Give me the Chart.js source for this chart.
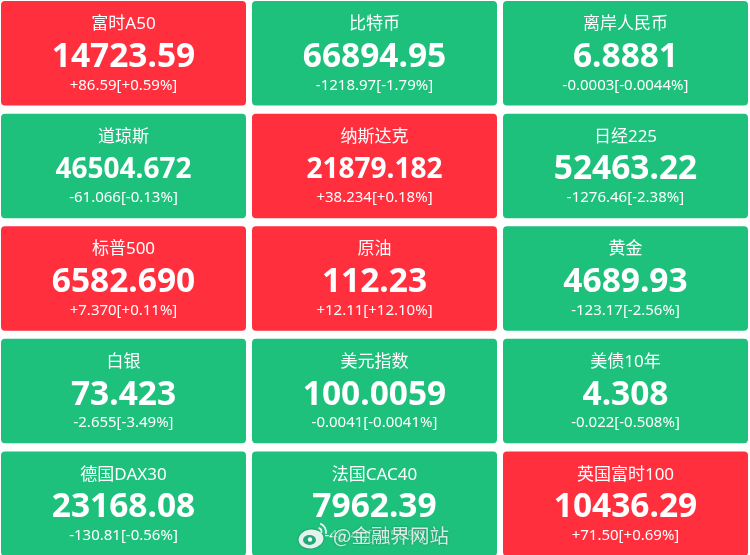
<!DOCTYPE html>
<html lang="zh">
<head>
<meta charset="utf-8">
<title>行情</title>
<script src="https://cdn.jsdelivr.net/npm/chart.js@4"></script>
<style>
html,body{margin:0;padding:0;background:#fff;overflow:hidden;width:750px;height:555px}
canvas{position:absolute;left:-2px;top:-3px}
</style>
</head>
<body>
<canvas id="c" width="753" height="563"></canvas>
<script>
const rows = ["第1行", "第2行", "第3行", "第4行", "第5行"];
const names = [
  ["富时A50", "道琼斯", "标普500", "白银", "德国DAX30"],
  ["比特币", "纳斯达克", "原油", "美元指数", "法国CAC40"],
  ["离岸人民币", "日经225", "黄金", "美债10年", "英国富时100"]
];
const prices = [
  ["14723.59", "46504.672", "6582.690", "73.423", "23168.08"],
  ["66894.95", "21879.182", "112.23", "100.0059", "7962.39"],
  ["6.8881", "52463.22", "4689.93", "4.308", "10436.29"]
];
const changes = [
  ["+86.59", "-61.066", "+7.370", "-2.655", "-130.81"],
  ["-1218.97", "+38.234", "+12.11", "-0.0041", "-46.40"],
  ["-0.0003", "-1276.46", "-123.17", "-0.022", "+71.50"]
];
const percents = [
  ["+0.59%", "-0.13%", "+0.11%", "-3.49%", "-0.56%"],
  ["-1.79%", "+0.18%", "+12.10%", "-0.0041%", "-0.58%"],
  ["-0.0044%", "-2.38%", "-2.56%", "-0.508%", "+0.69%"]
];
const upColor = "#ff2f3e";
const downColor = "#1dc17c";
const watermark = "@金融界网站";
const gap = 3 / 251;
const latin = '"Noto Sans","Noto Sans CJK SC",sans-serif';

const datasets = names.map((col, c) => ({
  label: "列" + (c + 1),
  data: col.map(() => [c + gap, c + 1 - gap]),
  backgroundColor: col.map((_, r) => changes[c][r].startsWith("+") ? upColor : downColor),
  borderRadius: 4,
  borderSkipped: false,
  borderWidth: 0,
  grouped: false,
  barPercentage: 0.928,
  categoryPercentage: 1
}));

const tileText = {
  id: "tileText",
  afterDatasetsDraw(chart) {
    const ctx = chart.ctx;
    ctx.save();
    ctx.textAlign = "center";
    ctx.textBaseline = "middle";
    ctx.fillStyle = "#fff";
    chart.data.datasets.forEach((ds, c) => {
      chart.getDatasetMeta(c).data.forEach((bar, r) => {
        const p = bar.getCenterPoint();
        ctx.font = "17px " + latin;
        ctx.fillText(names[c][r], p.x, p.y - 29);
        ctx.font = "bold " + (prices[c][r].length > 8 ? 28 : 33.5) + "px " + latin;
        ctx.fillText(prices[c][r], p.x, p.y + 4);
        ctx.font = "15px " + latin;
        ctx.fillText(changes[c][r] + "[" + percents[c][r] + "]", p.x, p.y + 32);
      });
    });
    ctx.restore();
  }
};

const mark = {
  id: "mark",
  afterDraw(chart) {
    const ctx = chart.ctx;
    ctx.save();
    ctx.translate(2, 3);
    // soft halo that mutes the text under the watermark
    ctx.fillStyle = "rgba(29,193,124,0.55)";
    ctx.fillRect(332, 526, 118, 20);
    ctx.shadowColor = "rgba(0,40,30,0.5)";
    ctx.shadowBlur = 2;
    ctx.fillStyle = "rgba(255,255,255,0.82)";
    ctx.textAlign = "left";
    ctx.textBaseline = "middle";
    ctx.font = '19.5px "Noto Sans CJK SC",sans-serif';
    ctx.fillText(watermark, 333, 536);
    ctx.fillStyle = "rgba(240,250,246,0.95)";
    ctx.beginPath();
    ctx.ellipse(311, 539, 12.5, 9.5, -0.12, 0, Math.PI * 2);
    ctx.fill();
    ctx.shadowBlur = 0;
    ctx.fillStyle = "#23a877";
    ctx.beginPath();
    ctx.ellipse(309.5, 540, 6.5, 5, 0, 0, Math.PI * 2);
    ctx.fill();
    ctx.fillStyle = "#f4fbf8";
    ctx.beginPath();
    ctx.arc(310, 539.5, 2.2, 0, Math.PI * 2);
    ctx.fill();
    ctx.strokeStyle = "rgba(240,250,246,0.95)";
    ctx.lineWidth = 1.8;
    ctx.beginPath();
    ctx.arc(317, 532, 9, -1.2, 0.2);
    ctx.stroke();
    ctx.beginPath();
    ctx.arc(317, 532, 4.5, -1.2, 0.2);
    ctx.stroke();
    ctx.restore();
  }
};

new Chart(document.getElementById("c"), {
  type: "bar",
  data: { labels: rows, datasets },
  options: {
    indexAxis: "y",
    responsive: false,
    devicePixelRatio: 1,
    animation: false,
    layout: { padding: 0 },
    plugins: { legend: { display: false }, tooltip: { enabled: false } },
    scales: {
      x: { type: "linear", min: 0, max: 3, display: false },
      y: { type: "category", display: false, offset: true }
    }
  },
  plugins: [tileText, mark]
});
</script>
</body>
</html>
